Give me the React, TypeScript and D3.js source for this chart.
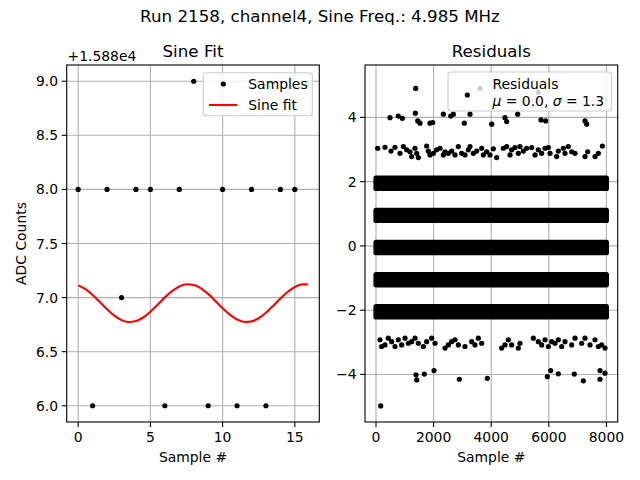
import React from "react";
import * as d3 from "d3";

// left panel: raw samples (offset +1.588e4) and the fitted sine
const sampleIdx = [0, 1, 2, 3, 4, 5, 6, 7, 8, 9, 10, 11, 12, 13, 14, 15];
const sampleVal = [8, 6, 8, 7, 8, 8, 6, 8, 9, 6, 8, 6, 8, 6, 8, 8];
const fitX = [
  0, 0.5, 1, 1.5, 2, 2.5, 3, 3.5, 4, 4.5, 5, 5.5, 6, 6.5, 7, 7.5, 8, 8.5, 9, 9.5, 10, 10.5, 11, 11.5, 12, 12.5, 13, 13.5,
  14, 14.5, 15, 15.5, 15.9,
];
const fitY = [
  7.113, 7.078, 7.024, 6.959, 6.892, 6.833, 6.792, 6.774, 6.783, 6.816, 6.869, 6.934, 7.002, 7.06, 7.103, 7.123, 7.117,
  7.086, 7.034, 6.969, 6.902, 6.842, 6.797, 6.775, 6.78, 6.809, 6.86, 6.923, 6.991, 7.052, 7.098, 7.122, 7.122,
];
const leftXTicks = [0, 5, 10, 15];
const leftYTicks = [6.0, 6.5, 7.0, 7.5, 8.0, 8.5, 9.0];

// right panel: dense residual bands (level, first sample, last sample)
const bandLevel = [2, 1, 0, -1, -2];
const bandStart = [0, 0, 0, 0, 0];
const bandEnd = [8000, 8000, 8000, 8000, 8000];
const bandHalf = 0.16;
const bandShift = -0.05;

// sparse residuals
const sparseX = [
  58, 312, 521, 660, 833, 949, 1065, 1180, 1238, 1354, 1412, 1470, 1759, 1817, 1875, 1991, 2106, 2222, 2338, 2396,
  2512, 2627, 2743, 2859, 2975, 3090, 3206, 3264, 3380, 3495, 3669, 3727, 3842, 3958, 4074, 4190, 4421, 4537, 4653, 4711,
  4826, 4942, 5000, 5116, 5231, 5405, 5521, 5636, 5752, 5868, 5984, 6041, 6273, 6331, 6505, 6562, 6678, 6794, 6910, 7257,
  7350, 7604, 7720, 7859,
  139, 197, 312, 428, 544, 660, 775, 891, 1007, 1123, 1238, 1354, 1470, 1643, 1759, 1933, 2049, 2396, 2512, 2627,
  2743, 2859, 3090, 3322, 3437, 3553, 3669, 4363, 4479, 4595, 4711, 4942, 5000, 5463, 5636, 5752, 5868, 5984, 6099, 6215,
  6331, 6447, 6562, 6794, 6910, 7141, 7257, 7431, 7604, 7720, 7836, 7952,
  486, 774, 913, 1378, 1365, 1448, 1528, 1875, 1969, 2337, 3066, 4017, 4479, 4538, 5729, 5892, 7257, 7316,
  3611, 5635, 2594, 2684, 3264, 4920,
  163, 1389, 1413, 1677, 2014, 2892, 3865, 5948, 6066, 6330, 6885, 7198, 7778, 7951, 7778,
];
const sparseY = [
  3.04, 3.07, 2.95, 3.07, 2.88, 3.09, 2.99, 2.93, 2.78, 3.04, 2.88, 2.75, 3.11, 2.95, 2.83, 2.88, 2.99, 3.04, 2.83, 2.93,
  2.88, 2.95, 2.83, 3.09, 2.88, 2.83, 2.99, 3.09, 2.88, 2.95, 3.04, 2.83, 2.93, 2.83, 3.02, 2.75, 3.04, 3.09, 2.83, 2.99,
  3.06, 2.88, 3.09, 2.95, 3.04, 3.06, 2.83, 2.99, 2.88, 3.04, 3.06, 2.88, 2.78, 2.95, 3.04, 2.88, 3.09, 2.93, 2.88, 2.78,
  2.93, 2.78, 2.88, 3.11,
  -2.92, -3.13, -3.08, -2.87, -2.98, -3.13, -2.92, -3.08, -2.87, -3.03, -2.98, -2.87, -3.03, -3.13, -2.98, -2.87, -3.03, -3.18, -3.08, -2.98,
  -2.92, -3.08, -3.13, -2.98, -3.08, -2.87, -3.03, -3.18, -3.08, -2.92, -3.08, -3.18, -3.03, -2.87, -2.98, -3.08, -2.92, -3.13, -2.98, -3.03,
  -2.92, -3.13, -2.98, -3.08, -2.87, -3.03, -2.87, -3.08, -2.92, -3.13, -3.08, -3.18,
  3.99, 4.04, 3.97, 4.9, 4.13, 3.89, 3.82, 3.82, 3.84, 4.1, 3.82, 3.79, 3.99, 3.87, 3.92, 3.89, 3.89, 3.79,
  4.9, 4.78, 4.04, 4.1, 4.1, 4.1,
  -4.98, -4.01, -4.17, -3.99, -3.88, -4.15, -4.12, -4.07, -3.88, -3.98, -3.99, -4.2, -3.88, -3.96, -4.15,
];
const rightXTicks = [0, 2000, 4000, 6000, 8000];
const rightYTicks = [-4, -2, 0, 2, 4];

const FONT = "DejaVu Sans, Verdana, sans-serif";
const GRID = "#b0b0b0";
const top = 65;
const bottom = 422;

const fmtMinus = (v: number, digits: number) => {
  const s = v.toFixed(digits);
  return s.replace("-", "\u2212");
};

const App = () => {
  const lx = d3.scaleLinear().domain([-0.795, 16.695]).range([66.7, 319.3]);
  const ly = d3.scaleLinear().domain([5.85, 9.15]).range([bottom, top]);
  const rx = d3.scaleLinear().domain([-382, 8392]).range([365, 617.7]);
  const ry = d3.scaleLinear().domain([-5.48, 5.63]).range([bottom, top]);

  const fitLine = d3
    .line<number>()
    .x((_, i) => lx(fitX[i]))
    .y((d) => ly(d))
    .curve(d3.curveMonotoneX);

  const dotR = 2.6;

  return (
    <svg width={640} height={480} style={{ display: "block", position: "absolute", left: 0, top: 0 }} fontFamily={FONT}>
      <rect width={640} height={480} fill="#fff" />
      <text x={320} y={22} fontSize={16.7} textAnchor="middle">
        Run 2158, channel4, Sine Freq.: 4.985 MHz
      </text>

      {/* ---- left panel ---- */}
      <g>
        {leftXTicks.map((t) => (
          <line key={"lgx" + t} x1={lx(t)} x2={lx(t)} y1={top} y2={bottom} stroke={GRID} strokeWidth={1.1} />
        ))}
        {leftYTicks.map((t) => (
          <line key={"lgy" + t} x1={66.7} x2={319.3} y1={ly(t)} y2={ly(t)} stroke={GRID} strokeWidth={1.1} />
        ))}
        <path d={fitLine(fitY) || ""} fill="none" stroke="#ff0000" strokeWidth={2.1} />
        {sampleIdx.map((d, i) => (
          <circle key={"s" + i} cx={lx(d)} cy={ly(sampleVal[i])} r={dotR} fill="#000" />
        ))}
        <rect x={66.7} y={top} width={319.3 - 66.7} height={bottom - top} fill="none" stroke="#000" strokeWidth={1.1} />
        {leftXTicks.map((t) => (
          <g key={"lxt" + t}>
            <line x1={lx(t)} x2={lx(t)} y1={bottom} y2={bottom + 4.9} stroke="#000" strokeWidth={1.1} />
            <text x={lx(t)} y={441.5} fontSize={13.9} textAnchor="middle">
              {t}
            </text>
          </g>
        ))}
        {leftYTicks.map((t) => (
          <g key={"lyt" + t}>
            <line x1={66.7 - 4.9} x2={66.7} y1={ly(t)} y2={ly(t)} stroke="#000" strokeWidth={1.1} />
            <text x={58} y={ly(t) + 5} fontSize={13.9} textAnchor="end">
              {t.toFixed(1)}
            </text>
          </g>
        ))}
        <text x={67.5} y={61} fontSize={13.9}>
          +1.588e4
        </text>
        <text x={193} y={57} fontSize={16.7} textAnchor="middle">
          Sine Fit
        </text>
        <text x={193} y={462} fontSize={13.9} textAnchor="middle">
          Sample #
        </text>
        <text transform="translate(26,243.5) rotate(-90)" fontSize={13.9} textAnchor="middle">
          ADC Counts
        </text>
        {/* legend */}
        <rect x={203.3} y={72.7} width={109} height={43} rx={3} fill="#fff" fillOpacity={0.8} stroke="#cccccc" strokeWidth={1.1} />
        <circle cx={223.3} cy={84} r={dotR} fill="#000" />
        <text x={248.3} y={89} fontSize={13.9}>
          Samples
        </text>
        <line x1={209} x2={237} y1={105} y2={105} stroke="#ff0000" strokeWidth={2.1} />
        <text x={248.3} y={110} fontSize={13.9}>
          Sine fit
        </text>
      </g>

      {/* ---- right panel ---- */}
      <g>
        {rightXTicks.map((t) => (
          <line key={"rgx" + t} x1={rx(t)} x2={rx(t)} y1={top} y2={bottom} stroke={GRID} strokeWidth={1.1} />
        ))}
        {rightYTicks.map((t) => (
          <line key={"rgy" + t} x1={365} x2={617.7} y1={ry(t)} y2={ry(t)} stroke={GRID} strokeWidth={1.1} />
        ))}
        {bandLevel.map((lv, i) => (
          <rect
            key={"b" + lv}
            x={rx(bandStart[i]) - dotR}
            y={ry(lv + bandShift + bandHalf) - dotR}
            width={rx(bandEnd[i]) - rx(bandStart[i]) + 2 * dotR}
            height={ry(lv + bandShift - bandHalf) - ry(lv + bandShift + bandHalf) + 2 * dotR}
            rx={dotR}
            fill="#000"
          />
        ))}
        {sparseX.map((d, i) => (
          <circle key={"p" + i} cx={rx(d)} cy={ry(sparseY[i])} r={dotR} fill="#000" />
        ))}
        <rect x={365} y={top} width={617.7 - 365} height={bottom - top} fill="none" stroke="#000" strokeWidth={1.1} />
        {rightXTicks.map((t) => (
          <g key={"rxt" + t}>
            <line x1={rx(t)} x2={rx(t)} y1={bottom} y2={bottom + 4.9} stroke="#000" strokeWidth={1.1} />
            <text x={rx(t)} y={441.5} fontSize={13.9} textAnchor="middle">
              {t}
            </text>
          </g>
        ))}
        {rightYTicks.map((t) => (
          <g key={"ryt" + t}>
            <line x1={365 - 4.9} x2={365} y1={ry(t)} y2={ry(t)} stroke="#000" strokeWidth={1.1} />
            <text x={356.5} y={ry(t) + 5} fontSize={13.9} textAnchor="end">
              {fmtMinus(t, 0)}
            </text>
          </g>
        ))}
        <text x={491.3} y={57} fontSize={16.7} textAnchor="middle">
          Residuals
        </text>
        <text x={491.3} y={462} fontSize={13.9} textAnchor="middle">
          Sample #
        </text>
        {/* legend */}
        <rect x={448} y={72} width={163.5} height={39} rx={3} fill="#fff" fillOpacity={0.8} stroke="#cccccc" strokeWidth={1.1} />
        <circle cx={467.3} cy={95} r={dotR} fill="#000" />
        <text x={492.5} y={89} fontSize={13.9}>
          Residuals
        </text>
        <text x={492.5} y={105.5} fontSize={13.9}>
          <tspan fontStyle="italic">μ</tspan>
          <tspan> = 0.0, </tspan>
          <tspan fontStyle="italic">σ</tspan>
          <tspan> = 1.3</tspan>
        </text>
      </g>
    </svg>
  );
};

export default App;
